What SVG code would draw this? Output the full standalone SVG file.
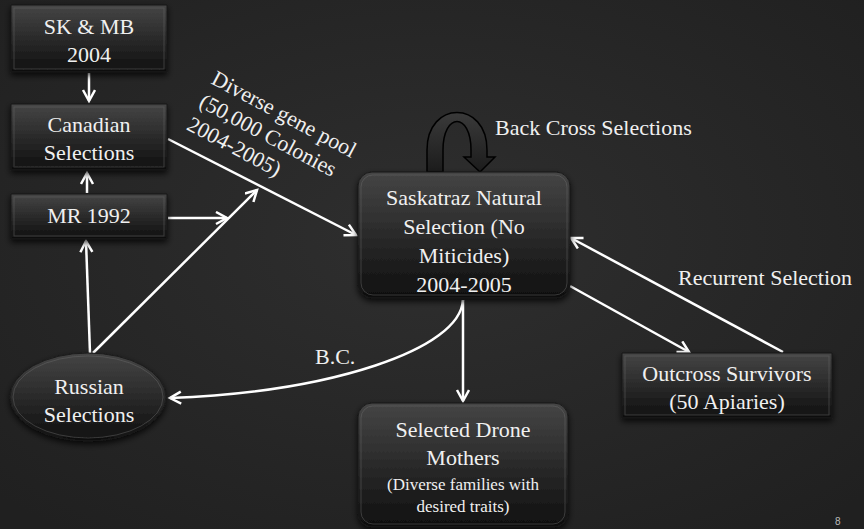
<svg xmlns="http://www.w3.org/2000/svg" width="864" height="529" viewBox="0 0 864 529">
<defs>
  <radialGradient id="bg" cx="50%" cy="45%" r="70%">
    <stop offset="0" stop-color="#2f2f2f"/>
    <stop offset="1" stop-color="#202020"/>
  </radialGradient>
  <linearGradient id="boxg" x1="0" y1="0" x2="0" y2="1">
    <stop offset="0" stop-color="#454545"/>
    <stop offset="1" stop-color="#0f0f0f"/>
  </linearGradient>
  <linearGradient id="arcg" x1="0" y1="0" x2="0" y2="1">
    <stop offset="0" stop-color="#3a3a3a"/>
    <stop offset="1" stop-color="#1c1c1c"/>
  </linearGradient>
  <filter id="sh" x="-20%" y="-20%" width="140%" height="150%">
    <feDropShadow dx="0" dy="3" stdDeviation="3" flood-color="#000" flood-opacity="0.8"/>
  </filter>
  <marker id="ah" markerUnits="userSpaceOnUse" markerWidth="16" markerHeight="16" refX="12" refY="7" orient="auto">
    <path d="M1,1 L12,7 L1,13" fill="none" stroke="#ffffff" stroke-width="2.5" stroke-linejoin="miter"/>
  </marker>
  <style>
    .box { fill: url(#boxg); stroke: #1a1a1a; stroke-width: 1; filter: url(#sh); }
    .bevel { fill: none; stroke: #6a6a6a; stroke-opacity: 0.45; stroke-width: 1; }
    .t { font-family: 'Liberation Serif', 'Times New Roman', Times, serif; font-size: 22px; fill: #f0f0f0; text-anchor: middle; }
    .tl { font-family: 'Liberation Serif', 'Times New Roman', Times, serif; font-size: 22px; fill: #f0f0f0; }
    .con { fill: none; stroke: #ffffff; stroke-width: 2.5; marker-end: url(#ah); }
  </style>
</defs>
<rect width="864" height="529" fill="url(#bg)"/>

<g id="connectors">
  <line class="con" x1="89" y1="73" x2="89" y2="101"/>
  <line class="con" x1="87" y1="193" x2="87" y2="173"/>
  <line class="con" x1="168" y1="218" x2="227" y2="218"/>
  <line class="con" x1="90" y1="353" x2="86" y2="241"/>
  <line class="con" x1="93" y1="353" x2="257" y2="190"/>
  <line class="con" x1="168" y1="139" x2="356" y2="235"/>
  <line class="con" x1="570" y1="286" x2="689" y2="352"/>
  <line class="con" x1="783" y1="352" x2="571" y2="238"/>
  <line class="con" x1="463" y1="300" x2="463" y2="401"/>
  <path class="con" d="M463,300 C460,350 330,392 170,398"/>
</g>

<g id="backcross">
  <path d="M427,172 L427,150 C427,100 487,100 487,150 L487,157 L495,157 L480,172 L464,157 L471,157 L471,150 C471,112 443,112 443,150 L443,172 Z" fill="url(#arcg)" stroke="#000" stroke-width="1.5"/>
  <text class="tl" x="495" y="135">Back Cross Selections</text>
</g>

<g id="sk-mb">
  <rect class="box" x="11" y="5" width="156" height="67"/>
  <rect class="bevel" x="14" y="8" width="150" height="61"/>
  <text class="t" x="89" y="34">SK &amp; MB</text>
  <text class="t" x="89" y="62">2004</text>
</g>

<g id="canadian">
  <rect class="box" x="11" y="104" width="156" height="66"/>
  <rect class="bevel" x="14" y="107" width="150" height="60"/>
  <text class="t" x="89" y="132">Canadian</text>
  <text class="t" x="89" y="160">Selections</text>
</g>

<g id="mr1992">
  <rect class="box" x="11" y="194" width="156" height="45"/>
  <rect class="bevel" x="14" y="197" width="150" height="39"/>
  <text class="t" x="89" y="223">MR 1992</text>
</g>

<g id="russian">
  <ellipse cx="88" cy="397" rx="78" ry="44" fill="url(#boxg)" stroke="#1a1a1a" filter="url(#sh)"/>
  <ellipse class="bevel" cx="88" cy="397" rx="75" ry="41"/>
  <text class="t" x="89" y="394">Russian</text>
  <text class="t" x="89" y="422">Selections</text>
</g>

<g id="diverse-label">
  <text class="tl" transform="translate(210,83) rotate(28)">
    <tspan x="0" y="0">Diverse gene pool</tspan>
    <tspan x="0" y="26">(50,000 Colonies</tspan>
    <tspan x="0" y="52">2004-2005)</tspan>
  </text>
</g>

<g id="saskatraz">
  <rect class="box" x="358" y="172" width="212" height="126" rx="14"/>
  <rect class="bevel" x="361" y="175" width="206" height="120" rx="12"/>
  <text class="t" x="464" y="205">Saskatraz Natural</text>
  <text class="t" x="464" y="234">Selection (No</text>
  <text class="t" x="464" y="263">Miticides)</text>
  <text class="t" x="464" y="292">2004-2005</text>
</g>

<g id="recurrent-label">
  <text class="tl" x="678" y="285">Recurrent Selection</text>
</g>

<g id="bc-label">
  <text class="tl" x="315" y="364">B.C.</text>
</g>

<g id="outcross">
  <rect class="box" x="622" y="353" width="210" height="65"/>
  <rect class="bevel" x="625" y="356" width="204" height="59"/>
  <text class="t" x="727" y="381">Outcross Survivors</text>
  <text class="t" x="727" y="409">(50 Apiaries)</text>
</g>

<g id="drone-mothers">
  <rect class="box" x="358" y="403" width="210" height="124" rx="14"/>
  <rect class="bevel" x="361" y="406" width="204" height="118" rx="12"/>
  <text class="t" x="463" y="437">Selected Drone</text>
  <text class="t" x="463" y="465">Mothers</text>
  <text class="t" x="463" y="490" style="font-size:17px">(Diverse families with</text>
  <text class="t" x="463" y="512" style="font-size:17px">desired traits)</text>
</g>

<text x="835" y="525" style="font-family:'Liberation Sans',sans-serif;font-size:10px;fill:#bbbbbb">8</text>
</svg>
